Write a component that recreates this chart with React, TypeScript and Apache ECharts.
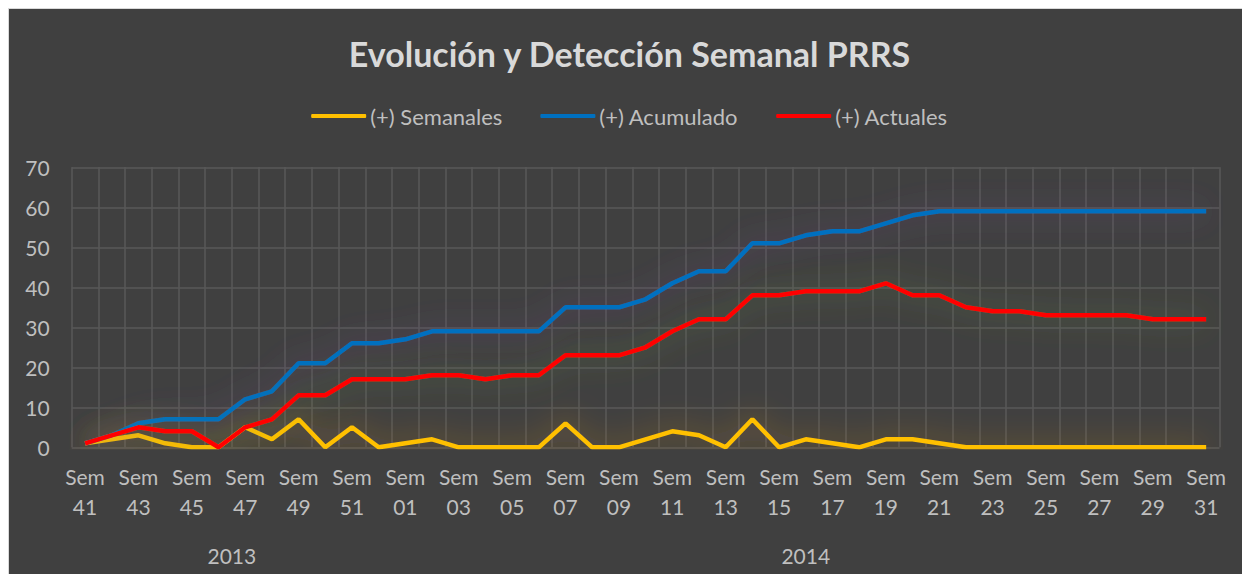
import React, { useEffect, useRef } from "react";
import * as echarts from "echarts";

const weeks: string[] = [
  "41", "42", "43", "44", "45", "46", "47", "48", "49", "50", "51", "52",
  "01", "02", "03", "04", "05", "06", "07", "08", "09", "10", "11", "12", "13", "14", "15", "16",
  "17", "18", "19", "20", "21", "22", "23", "24", "25", "26", "27", "28", "29", "30", "31",
];
const years: { label: string; first: number; last: number }[] = [
  { label: "2013", first: 0, last: 11 },
  { label: "2014", first: 12, last: 42 },
];
const semanales: number[] = [
  1, 2, 3, 1, 0, 0, 5, 2, 7, 0, 5, 0,
  1, 2, 0, 0, 0, 0, 6, 0, 0, 2, 4, 3, 0, 7, 0, 2,
  1, 0, 2, 2, 1, 0, 0, 0, 0, 0, 0, 0, 0, 0, 0,
];
const acumulado: number[] = [
  1, 3, 6, 7, 7, 7, 12, 14, 21, 21, 26, 26,
  27, 29, 29, 29, 29, 29, 35, 35, 35, 37, 41, 44, 44, 51, 51, 53,
  54, 54, 56, 58, 59, 59, 59, 59, 59, 59, 59, 59, 59, 59, 59,
];
const actuales: number[] = [
  1, 3, 5, 4, 4, 0, 5, 7, 13, 13, 17, 17,
  17, 18, 18, 17, 18, 18, 23, 23, 23, 25, 29, 32, 32, 38, 38, 39,
  39, 39, 41, 38, 38, 35, 34, 34, 33, 33, 33, 33, 32, 32, 32,
];
const seriesNames = ["(+) Semanales", "(+) Acumulado", "(+) Actuales"];
const yTicks = { min: 0, max: 70, interval: 10 };

const FONT = "Lato, 'Open Sans', sans-serif";

export default function App() {
  const ref = useRef<HTMLDivElement>(null);
  useEffect(() => {
    document.body.style.overflow = "hidden";
    const chart = echarts.init(ref.current!, null, { renderer: "svg" });
    const mk = (name: string, data: number[], color: string, glow: string) => ({
      name,
      type: "line",
      data,
      symbol: "none",
      showSymbol: false,
      lineStyle: {
        color,
        width: 4.5,
        shadowColor: glow,
        shadowBlur: 30,
      },
      itemStyle: { color },
    });
    chart.setOption({
      animation: false,
      backgroundColor: "#404040",
      title: {
        text: "Evolución y Detección Semanal PRRS",
        left: "center",
        top: 22,
        textStyle: { fontFamily: FONT, fontWeight: "bold", fontSize: 34, color: "#d9d9d9" },
      },
      legend: {
        top: 91,
        left: "center",
        icon: "roundRect",
        itemWidth: 55,
        itemHeight: 4,
        itemGap: 38,
        textStyle: { color: "#bfbfbf", fontSize: 22, fontFamily: FONT, padding: [0, 0, 0, -1] },
        data: seriesNames,
      },
      grid: { left: 62.7, right: 30.5, top: 158.3, bottom: 126.7 },
      xAxis: {
        type: "category",
        data: weeks.map((w) => "Sem\n" + w),
        boundaryGap: true,
        axisLine: { show: false },
        axisTick: { show: false },
        splitLine: { show: true, interval: 0, lineStyle: { color: "#595959", width: 1.5 } },
        axisLabel: {
          interval: 1,
          color: "#bfbfbf",
          fontSize: 21,
          lineHeight: 30,
          margin: 14,
          fontFamily: FONT,
        },
      },
      yAxis: {
        type: "value",
        min: yTicks.min,
        max: yTicks.max,
        interval: yTicks.interval,
        axisLine: { show: false },
        axisTick: { show: false },
        axisLabel: { color: "#bfbfbf", fontSize: 21, margin: 22, fontFamily: FONT },
        splitLine: { lineStyle: { color: "#595959", width: 1.5 } },
      },
      series: [
        mk(seriesNames[0], semanales, "#FFC000", "rgba(235,150,40,0.7)"),
        mk(seriesNames[1], acumulado, "#0070C0", "rgba(125,80,165,0.6)"),
        mk(seriesNames[2], actuales, "#FF0000", "rgba(110,150,60,0.65)"),
      ],
    });
    const graphic = years.map((y) => {
      const a = chart.convertToPixel({ xAxisIndex: 0 }, y.first) as number;
      const b = chart.convertToPixel({ xAxisIndex: 0 }, y.last) as number;
      return {
        type: "text",
        x: (a + b) / 2,
        y: 546,
        style: {
          text: y.label,
          fill: "#bfbfbf",
          font: `21px ${FONT}`,
          textAlign: "center",
          textVerticalAlign: "middle",
        },
      };
    });
    chart.setOption({ graphic });
    return () => chart.dispose();
  }, []);
  return (
    <div style={{ borderLeft: "1px solid #d9d9d9", borderTop: "1px solid #d9d9d9", width: 1241, height: 565 }}>
      <div ref={ref} style={{ width: 1241, height: 565 }} />
    </div>
  );
}
